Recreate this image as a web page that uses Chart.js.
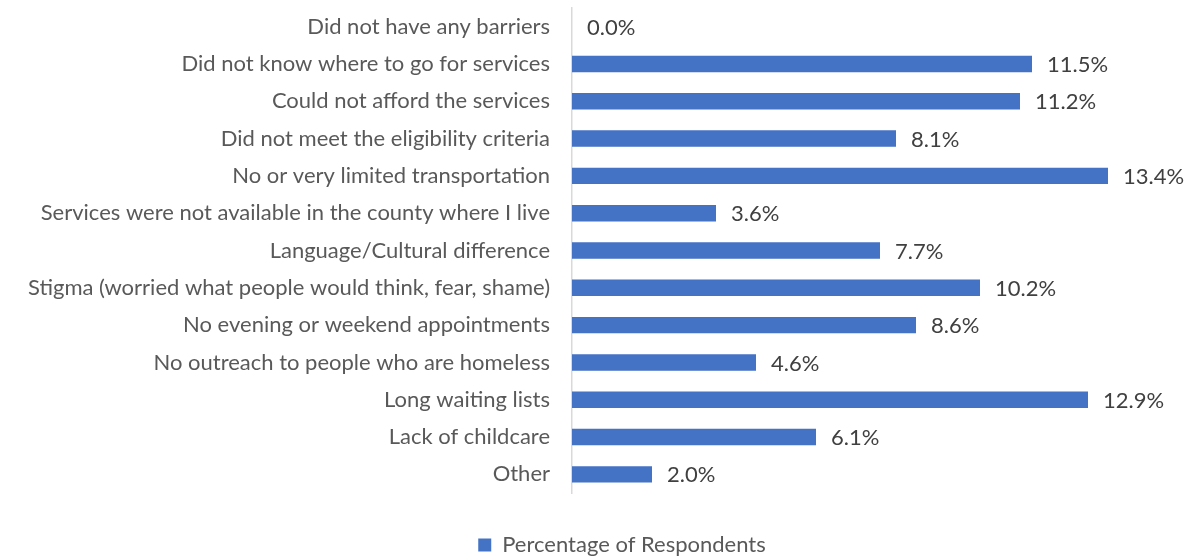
<!DOCTYPE html>
<html>
<head>
<meta charset="utf-8">
<script src="https://cdn.jsdelivr.net/npm/chart.js@4/dist/chart.umd.min.js"></script>
<style>
  html, body { margin: 0; padding: 0; background: #fff; }
  #wrap { width: 1191px; height: 558px; position: relative; }
</style>
</head>
<body>
<div id="wrap"><canvas id="barChart"></canvas></div>
<script>
// Data
const categories = [
    'Did not have any barriers',
    'Did not know where to go for services',
    'Could not afford the services',
    'Did not meet the eligibility criteria',
    'No or very limited transportation',
    'Services were not available in the county where I live',
    'Language/Cultural difference',
    'Stigma (worried what people would think, fear, shame)',
    'No evening or weekend appointments',
    'No outreach to people who are homeless',
    'Long waiting lists',
    'Lack of childcare',
    'Other'
];
const percentages = [0.0, 11.5, 11.2, 8.1, 13.4, 3.6, 7.7, 10.2, 8.6, 4.6, 12.9, 6.1, 2.0];
const seriesName = 'Percentage of Respondents';

const fontFamily = 'Lato, "Open Sans", sans-serif';

// Value labels at the end of each bar
const valueLabels = {
    id: 'valueLabels',
    afterDatasetsDraw(chart) {
        const ctx = chart.ctx;
        const meta = chart.getDatasetMeta(0);
        ctx.save();
        ctx.font = '22px ' + fontFamily;
        ctx.fillStyle = '#404040';
        ctx.textAlign = 'left';
        ctx.textBaseline = 'middle';
        meta.data.forEach((bar, i) => {
            ctx.fillText(percentages[i].toFixed(1) + '%', bar.x + 15, bar.y + 1);
        });
        ctx.restore();
    }
};

// Nudge the legend a bit right and down, like the original
const legendShift = {
    id: 'legendShift',
    afterLayout(chart) {
        const lg = chart.legend;
        if (!lg) return;
        lg.left += 72;
        lg.top += 8;
        lg.bottom += 8;
    }
};

new Chart(document.getElementById('barChart').getContext('2d'), {
    type: 'bar',
    data: {
        labels: categories,
        datasets: [{
            label: seriesName,
            data: percentages,
            backgroundColor: '#4472C4',
            barPercentage: 0.44,
            categoryPercentage: 1.0
        }]
    },
    options: {
        indexAxis: 'y',
        responsive: true,
        maintainAspectRatio: false,
        animation: false,
        layout: { padding: { top: 8, right: 19, bottom: 0, left: 0 } },
        plugins: {
            tooltip: { enabled: false },
            legend: {
                position: 'bottom',
                labels: {
                    boxWidth: 13,
                    boxHeight: 13,
                    padding: 4,
                    color: '#595959',
                    font: { family: fontFamily, size: 22 }
                }
            }
        },
        scales: {
            x: {
                min: 0,
                max: 15,
                grid: { display: false },
                border: { display: false },
                ticks: { display: false },
                afterFit: function(scale) { scale.height = 29; }
            },
            y: {
                grid: { display: false },
                border: { color: '#D9D9D9', width: 1.5 },
                ticks: {
                    color: '#595959',
                    padding: 14,
                    font: { family: fontFamily, size: 22 }
                },
                afterFit: function(scale) {
                    scale.width = 572;
                    scale.paddingTop = 0;
                    scale.paddingBottom = 0;
                }
            }
        }
    },
    plugins: [valueLabels, legendShift]
});
</script>
</body>
</html>
